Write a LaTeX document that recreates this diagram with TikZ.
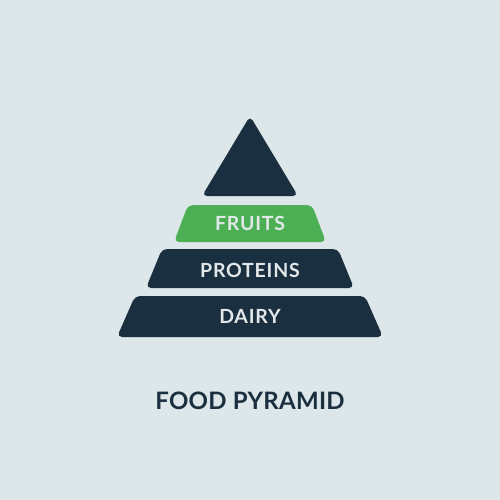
\documentclass[tikz,border=0pt]{standalone}
\usepackage{fontspec}
\setmainfont{Lato}
\newfontfamily\layerfont[LetterSpace=4]{Lato}
\newfontfamily\titlefont[LetterSpace=1.2]{Lato}
\definecolor{bg}{HTML}{DDE6E9}
\definecolor{navy}{HTML}{1A2F3F}
\definecolor{leaf}{HTML}{4DAF53}
\definecolor{pale}{HTML}{E2E8EA}
\begin{document}
\begin{tikzpicture}[x=1pt,y=-1pt]

      \fill[bg] (0,0) rectangle (500,500);

      \begin{scope}[rounded corners=5pt]
        \fill[navy] (250,116) -- (298,196) -- (202,196) -- cycle;
        \fill[leaf] (188,205) -- (312,205) -- (326,242) -- (174,242) -- cycle;
        \fill[navy] (162,249) -- (338,249) -- (354,288) -- (146,288) -- cycle;
        \fill[navy] (135,296) -- (365,296) -- (383,337) -- (117,337) -- cycle;
      \end{scope}

      \begin{scope}[every node/.style={text=pale,font=\layerfont\bfseries\fontsize{19.5}{19}\selectfont}]
        \node (fruits)   at (250,223.5) {FRUITS};
        \node (proteins) at (250,270)   {PROTEINS};
        \node (dairy)    at (250,316)   {DAIRY};
      \end{scope}

      \node[text=navy,font=\titlefont\bfseries\fontsize{24}{24}\selectfont] (title) at (250,400.5) {FOOD PYRAMID};

    \end{tikzpicture}
\end{document}
